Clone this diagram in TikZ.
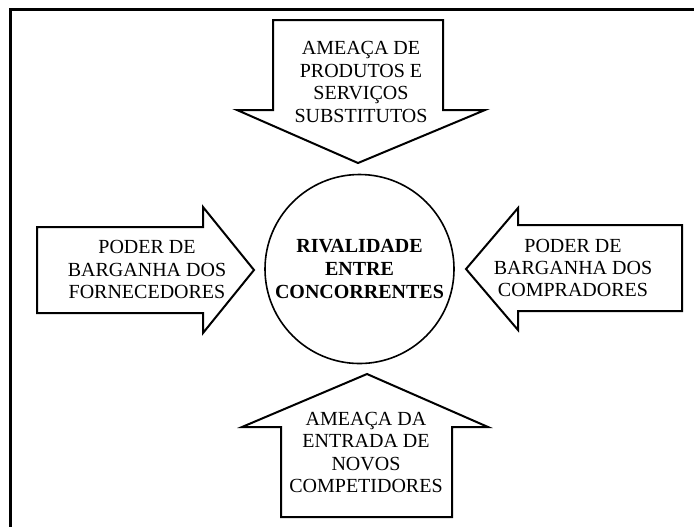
\documentclass[tikz,border=0pt]{standalone}
\usepackage{fontspec}
\setmainfont{Liberation Serif}
\usepackage{tikz}
\usetikzlibrary{shapes,positioning}

\begin{document}
\begin{tikzpicture}[
        x=0.5pt, y=-0.5pt,
        frame/.style={line width=1.5pt, line cap=rect},
        force/.style={draw, line width=1pt, line join=miter, fill=white},
        forcetext/.style={align=center, inner sep=0pt, font=\fontsize{10}{11.2}\selectfont},
        rivalry/.style={circle, draw, line width=0.8pt, minimum size=94.5pt, inner sep=0pt,
            align=center, font=\bfseries\fontsize{10}{11.5}\selectfont}
    ]
        \useasboundingbox (0,0) rectangle (694,526);

        % Outer frame
        \draw[frame] (10.5,526) |- (694,9);

        % Central circle
        \node[rivalry] (rival) at (359.5,269) {RIVALIDADE\\ENTRE\\CONCORRENTES};

        % Forces (arrow shapes)
        \draw[force] (273,20) -- (443,20) -- (443,110) -- (485,110) -- (358,163)
            -- (237,110) -- (273,110) -- cycle;
        \draw[force] (37,227) -- (203,227) -- (203,207) -- (254,270) -- (203,333)
            -- (203,313) -- (37,313) -- cycle;
        \draw[force] (682,225) -- (518,225) -- (518,208) -- (466,269) -- (518,330)
            -- (518,311) -- (682,311) -- cycle;
        \draw[force] (281,517) -- (452,517) -- (452,427) -- (488,427) -- (367,374)
            -- (242,427) -- (281,427) -- cycle;

        % Labels
        \node[forcetext] (subst) at (361,82) {AMEAÇA DE\\PRODUTOS E\\SERVIÇOS\\SUBSTITUTOS};
        \node[forcetext] (fornec) at (147,269.5) {PODER DE\\BARGANHA DOS\\FORNECEDORES};
        \node[forcetext] (compr) at (573,268) {PODER DE\\BARGANHA DOS\\COMPRADORES};
        \node[forcetext] (novos) at (366,452.5) {AMEAÇA DA\\ENTRADA DE\\NOVOS\\COMPETIDORES};
    \end{tikzpicture}
\end{document}
